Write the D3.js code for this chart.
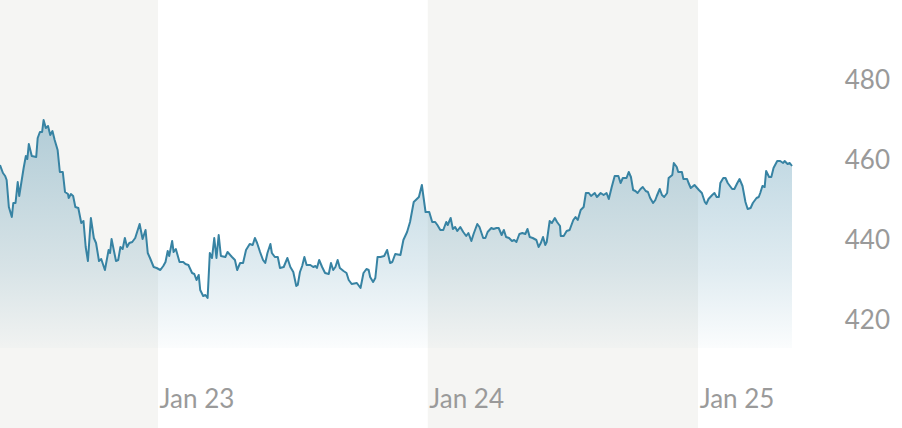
<!DOCTYPE html>
<html>
<head>
<meta charset="utf-8">
<script src="https://cdn.jsdelivr.net/npm/d3@7"></script>
<style>
  html, body { margin: 0; padding: 0; background: #ffffff; }
  svg { display: block; }
  text { font-family: Lato, "Open Sans", sans-serif; }
</style>
</head>
<body>
<svg id="chart" width="902" height="428"></svg>
<script>
// ---- data ----
const startDate = "2022-06-01";
const dayOffsets = [
  0,4,7,9,12,16,18,21,24,26,29,32,35,37,39,43,49,51,54,57,59,62,65,68,71,74,78,81,85,88,92,93,96,99,102,106,110,113,116,119,
  123,127,130,134,137,142,147,149,151,157,160,163,166,169,172,175,179,
  183,189,193,197,200,203,208,212,217,221,224,227,229,233,235,238,243,248,251,255,260,263,266,269,271,275,278,281,284,287,290,293,296,299,
  305,308,314,318,321,325,329,333,338,342,345,348,352,
  356,359,362,366,368,372,376,379,384,389,393,397,401,403,406,409,412,415,420,424,427,429,432,436,440,445,448,451,454,457,460,465,469,472,476,483,
  488,492,496,499,501,505,508,511,515,520,524,528,531,
  535,542,546,551,555,560,567,571,576,581,585,589,592,596,600,604,606,610,613,616,619,623,627,631,634,638,641,646,649,654,657,660,665,668,672,675,
  679,682,685,689,693,696,699,703,707,
  711,714,717,721,726,729,732,735,738,740,744,747,751,754,758,759,763,767,771,776,779,782,786,790,793,797,800,805,808,813,817,821,824,828,832,837,
  840,843,848,851,854,857,860,863,867,870,874,877,880,
  884,887,889,893,896,899,903,905,910,912,916,918,923,925,930,932,935,940,946,950,954,956,959,964,967,970,973,975,979,982,985,991,994,998,1001,
  1005,1009,1012,1016,1019,1024,1027,1029,1032,1035,1037,1041,1044,1047,1052,1056,1060,1062,1066,1069,1072
];
const values = [
  458.5,456.5,455.75,454.75,448.0,445.5,449.0,449.0,454.25,450.75,454.25,457.75,460.75,460.0,463.75,460.75,460.5,465.25,466.75,466.75,
  469.75,467.75,468.25,466.0,467.0,464.75,462.25,456.75,456.75,451.75,451.25,450.25,451.25,450.75,448.0,447.75,444.0,444.5,438.0,434.5,
  445.25,440.25,439.0,434.5,435.0,432.25,437.25,436.5,440.0,434.5,434.75,438.0,437.5,440.25,438.0,439.0,439.25,
  440.25,443.75,440.0,442.25,436.5,435.25,433.0,432.75,432.25,433.25,434.25,437.0,435.75,439.5,436.75,437.5,434.25,434.25,433.75,433.5,
  431.5,431.25,429.75,431.0,427.25,425.75,426.0,425.25,436.5,435.25,440.25,435.25,441.0,435.75,
  435.5,436.75,435.5,434.75,432.25,434.0,434.0,437.25,438.75,438.5,440.25,439.0,436.75,
  434.75,434.0,436.5,438.75,436.5,435.5,435.5,432.75,433.0,435.25,433.0,431.75,428.25,428.5,431.75,433.25,435.5,433.5,433.5,433.0,
  433.25,432.75,434.75,433.0,431.5,431.25,434.0,432.25,433.0,434.75,432.75,432.0,431.5,429.75,428.75,429.0,
  427.75,431.5,432.5,432.25,430.5,429.25,430.25,435.5,435.5,435.75,437.25,434.0,434.25,
  436.25,436.0,439.75,441.75,444.25,449.25,450.5,453.5,446.75,446.75,444.25,444.25,443.5,442.25,442.25,444.25,443.5,445.25,442.5,443.0,
  442.0,443.0,441.75,440.75,441.5,439.5,441.25,443.75,443.0,440.25,440.25,441.75,442.75,442.5,442.75,442.75,
  441.0,442.25,440.5,440.25,439.5,439.75,439.25,441.25,441.5,
  441.25,442.5,440.5,440.25,439.75,438.0,439.0,440.5,438.5,439.25,444.5,444.0,445.25,444.25,443.25,440.75,440.75,442.0,442.25,444.75,
  445.5,444.75,447.25,448.0,451.5,451.5,450.75,451.5,450.5,451.5,451.0,451.5,450.0,453.0,455.75,455.75,
  454.0,455.25,455.25,456.75,455.5,452.25,452.0,451.5,452.5,453.0,452.0,451.75,450.25,
  449.0,449.75,450.75,452.5,451.0,450.5,451.5,455.25,456.0,459.0,458.0,456.75,456.75,455.0,455.0,454.0,452.75,453.5,452.25,451.5,
  449.25,448.75,450.0,451.0,451.5,450.5,450.5,454.0,455.25,455.25,454.0,452.5,452.5,454.0,455.0,
  453.25,449.25,447.5,447.75,449.0,450.25,450.5,451.5,453.25,453.0,457.0,455.5,455.5,457.75,459.5,459.5,459.0,459.5,458.75,459.0,458.25
];
const yTickValues = [420, 440, 460, 480];
const yearStarts = ["2022-01-01", "2023-01-01", "2024-01-01", "2025-01-01", "2026-01-01"];
const xTickLabels = ["Jan 23", "Jan 24", "Jan 25"];

// ---- build ----
const parse = d3.timeParse("%Y-%m-%d");
const start = parse(startDate);
const data = dayOffsets.map((d, i) => ({ date: d3.timeDay.offset(start, d), value: values[i] }));

const W = 902, H = 428;
const plot = { left: 0, right: 792, top: 0, bottom: 348 };

const x = d3.scaleTime()
  .domain(d3.extent(data, d => d.date))
  .range([plot.left, plot.right]);

const y = d3.scaleLinear()
  .domain([412.75, 499.75])
  .range([plot.bottom, plot.top]);

const svg = d3.select("#chart");

// year bands
const years = yearStarts.map(parse);
const bands = svg.append("g");
for (let i = 0; i < years.length - 1; i++) {
  const x0 = Math.max(0, x(years[i]));
  const x1 = Math.min(W, x(years[i + 1]));
  if (x1 <= x0) continue;
  bands.append("rect")
    .attr("x", x0).attr("y", 0)
    .attr("width", x1 - x0).attr("height", H)
    .attr("fill", years[i].getFullYear() % 2 === 0 ? "#f5f5f3" : "#ffffff");
}

// gradient
const defs = svg.append("defs");
const grad = defs.append("linearGradient")
  .attr("id", "areaGrad")
  .attr("x1", 0).attr("y1", 0).attr("x2", 0).attr("y2", 1);
grad.append("stop").attr("offset", "0%").attr("stop-color", "#2e7da0").attr("stop-opacity", 0.34);
grad.append("stop").attr("offset", "65%").attr("stop-color", "#2e7da0").attr("stop-opacity", 0.15);
grad.append("stop").attr("offset", "100%").attr("stop-color", "#2e7da0").attr("stop-opacity", 0.02);

const area = d3.area()
  .x(d => x(d.date))
  .y0(y(412.75))
  .y1(d => y(d.value));

svg.append("path")
  .datum(data)
  .attr("d", area)
  .attr("fill", "url(#areaGrad)");

const line = d3.line()
  .x(d => x(d.date))
  .y(d => y(d.value));

svg.append("path")
  .datum(data)
  .attr("d", line)
  .attr("fill", "none")
  .attr("stroke", "#3783a3")
  .attr("stroke-width", 2)
  .attr("stroke-linejoin", "round");

// y axis (right)
const yAxis = d3.axisRight(y)
  .tickValues(yTickValues)
  .tickSize(0)
  .tickPadding(0)
  .tickFormat(d3.format("d"));

const gy = svg.append("g")
  .attr("transform", "translate(890,0)")
  .call(yAxis);
gy.select(".domain").remove();
gy.selectAll("text")
  .attr("text-anchor", "end")
  .attr("x", 0)
  .attr("dy", "0.35em")
  .attr("fill", "#9a9a9a")
  .style("font-size", "26px")
  .style("font-weight", 400)
  .style("font-family", "Lato, sans-serif");

// x axis labels
const xTicks = years.slice(1, 4);
const xAxis = d3.axisBottom(x)
  .tickValues(xTicks)
  .tickSize(0)
  .tickPadding(0)
  .tickFormat((d, i) => xTickLabels[i]);

const gx = svg.append("g")
  .attr("transform", "translate(0,408)")
  .call(xAxis);
gx.select(".domain").remove();
gx.selectAll("text")
  .attr("text-anchor", "start")
  .attr("x", 1)
  .attr("y", 0)
  .attr("dy", 0)
  .attr("fill", "#9a9a9a")
  .style("font-size", "26px")
  .style("font-weight", 400)
  .style("font-family", "Lato, sans-serif");
</script>
</body>
</html>
